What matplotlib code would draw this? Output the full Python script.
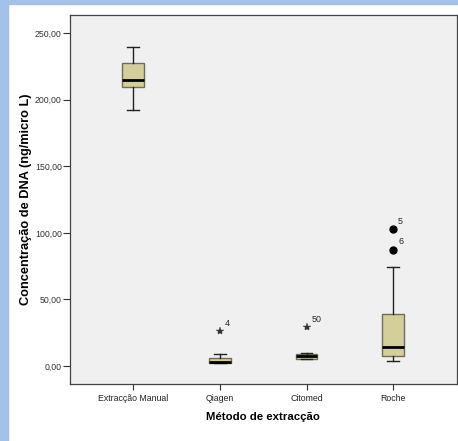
import matplotlib
matplotlib.use("Agg")
import matplotlib.pyplot as plt
from matplotlib.patches import Rectangle
from matplotlib import font_manager

# ---- data ----
categories = ["Extracção Manual", "Qiagen", "Citomed", "Roche"]
whisker_low = [192.6, 2.2, 5.5, 3.8]
q1 = [209.4, 2.2, 5.6, 7.7]
median = [214.9, 3.2, 7.2, 14.3]
q3 = [227.9, 5.8, 9.3, 38.8]
whisker_high = [239.4, 8.8, 9.5, 74.6]

star_outlier_cat = [1, 2]
star_outlier_val = [26.3, 29.1]
star_outlier_lab = ["4", "50"]
circle_outlier_cat = [3, 3]
circle_outlier_val = [102.9, 87.4]
circle_outlier_lab = ["5", "6"]

yticks = [0, 50, 100, 150, 200, 250]
ytick_labels = ["0,00", "50,00", "100,00", "150,00", "200,00", "250,00"]
xlabel = "Método de extracção"
ylabel = "Concentração de DNA (ng/micro L)"

names = {f.name for f in font_manager.fontManager.ttflist}
narrow = "Liberation Sans Narrow" if "Liberation Sans Narrow" in names else "Liberation Sans"

fig = plt.figure(figsize=(4.58, 4.41), dpi=100)
fig.patch.set_facecolor("white")
# blue slide strips
blue = "#a3c1ea"
fig.patches.append(Rectangle((0, 0), 8/458, 1, transform=fig.transFigure, color=blue, zorder=0))
fig.patches.append(Rectangle((0, 1-4/441), 1, 4/441, transform=fig.transFigure, color=blue, zorder=0))

W, H = 458, 441
left, right, top, bottom = 70, 456.5, 14.7, 384.3
ax = fig.add_axes([left/W, 1-bottom/H, (right-left)/W, (bottom-top)/H])
ax.set_facecolor("#f0f0f0")

stats = []
for i in range(len(categories)):
    stats.append(dict(whislo=whisker_low[i], q1=q1[i], med=median[i], q3=q3[i],
                      whishi=whisker_high[i], fliers=[], label=categories[i]))

ax.bxp(stats, positions=range(len(categories)), widths=0.25, patch_artist=True,
       showfliers=False,
       boxprops=dict(facecolor="#d4cf98", edgecolor="#6e6c5e", linewidth=1.0),
       medianprops=dict(color="black", linewidth=2.0),
       whiskerprops=dict(color="#222222", linewidth=1.0),
       capprops=dict(color="#222222", linewidth=1.0),
       capwidths=0.135)

ax.plot(star_outlier_cat, star_outlier_val, linestyle="none", marker="*",
        markersize=6, color="#333333", markeredgewidth=0.3)
ax.plot(circle_outlier_cat, circle_outlier_val, linestyle="none", marker="o",
        markersize=5, color="black")
for c, v, t in zip(star_outlier_cat + circle_outlier_cat,
                   star_outlier_val + circle_outlier_val,
                   star_outlier_lab + circle_outlier_lab):
    ax.annotate(t, (c, v), xytext=(3.5, 2.5), textcoords="offset points",
                fontsize=6.4, family=narrow, color="#222222", ha="left", va="bottom")

ax.set_xlim(-0.73, 3.73)
ax.set_ylim(-13.75, 263.9)
ax.set_yticks(yticks)
ax.set_yticklabels(ytick_labels, family=narrow, fontsize=6.3, color="#333333")
ax.set_xticks(range(len(categories)))
ax.set_xticklabels(categories, family=narrow, fontsize=6.3, color="#222222")
ax.tick_params(axis="y", length=5, width=0.8, color="#333333", pad=1)
ax.tick_params(axis="x", length=4, width=0.8, color="#333333", pad=3)
for s in ax.spines.values():
    s.set_color("#444444")
    s.set_linewidth(0.9)

ax.set_xlabel(xlabel, family="Liberation Sans", fontweight="bold", fontsize=8.2)
ax.set_ylabel(ylabel, family="Liberation Sans", fontweight="bold", fontsize=9.2)
ax.yaxis.set_label_coords((32.5 - left) / (right - left), 0.5)
ax.xaxis.set_label_coords(0.5, (bottom - 412.5) / (bottom - top))

fig.savefig("out.png", dpi=100)
